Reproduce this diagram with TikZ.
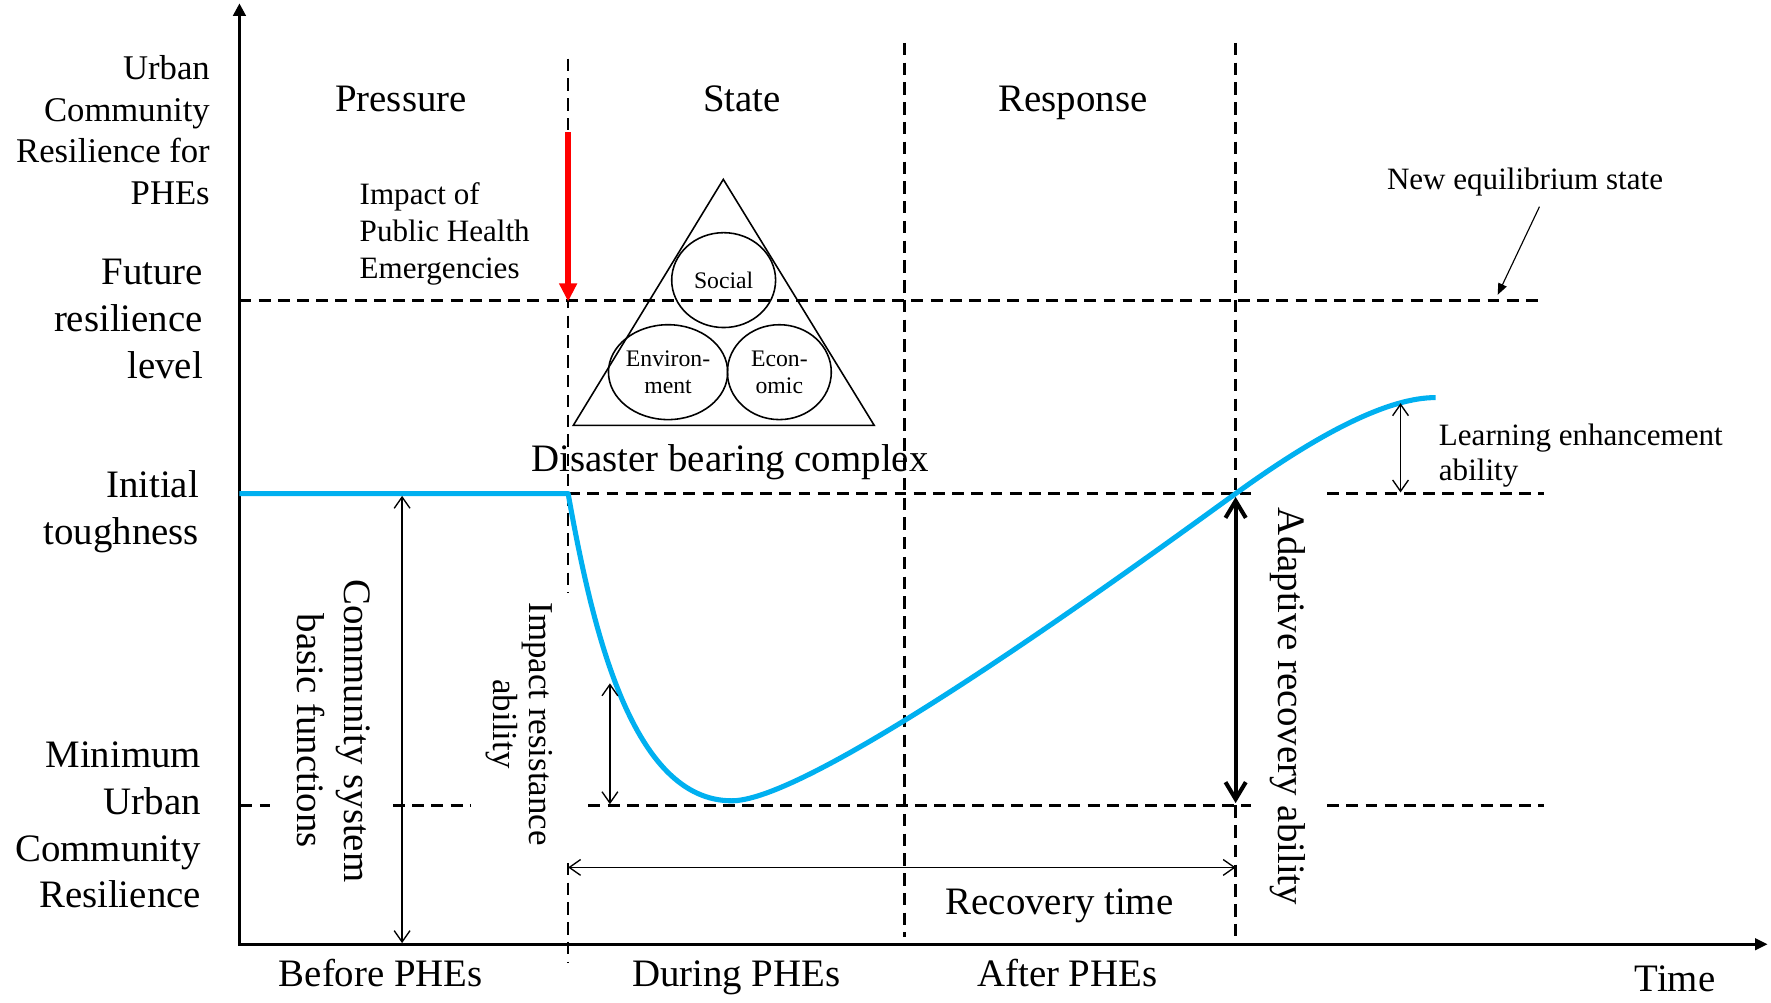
\documentclass[tikz,border=0pt]{standalone}
\usepackage{fontspec}
\setmainfont{Liberation Serif}
\usetikzlibrary{arrows.meta,shapes.geometric}
\definecolor{curveblue}{RGB}{0,176,240}
\definecolor{impactred}{RGB}{255,0,0}
\newcommand{\myfs}[2]{\fontsize{#1}{#2}\selectfont}
\begin{document}
\begin{tikzpicture}[x=1pt,y=-1pt,
  txt/.style={inner sep=0pt, outer sep=0pt},
  big/.style={txt, font=\myfs{34.4}{41.3}},
  guide/.style={line width=2.4pt, dash pattern=on 10.5pt off 6.5pt},
  vguide/.style={line width=2.2pt, dash pattern=on 11pt off 6.5pt},
  barb/.style={line width=1.2pt, {Straight Barb[length=10pt,width=14pt]}-{Straight Barb[length=10pt,width=14pt]}},
  boldbarb/.style={line width=3.6pt, {Straight Barb[length=15pt,width=18pt]}-{Straight Barb[length=15pt,width=18pt]}},
  curve/.style={line width=4.5pt, curveblue, line join=round},
  part/.style={ellipse, draw, line width=1.4pt, minimum width=92pt, minimum height=84pt, inner sep=0pt, align=center, font=\myfs{21}{23.7}},
]
\useasboundingbox (0,0) rectangle (1568,888);
\fill[white] (0,0) rectangle (1568,888);

% ---------- coordinates ----------
\coordinate (O) at (212,836);
\coordinate (Ytop) at (212,3);
\coordinate (Xend) at (1565,836);
% horizontal guides
\coordinate (F0) at (212,266);  \coordinate (F1) at (1367,266);
\coordinate (I0) at (503,437);  \coordinate (I1) at (1108,437);
\coordinate (I2) at (1175,437); \coordinate (I3) at (1367,437);
\coordinate (M0) at (213,713);  \coordinate (M1) at (239,713);
\coordinate (M2) at (348,713);  \coordinate (M3) at (417,713);
\coordinate (M4) at (521,713);  \coordinate (M5) at (1108,713);
\coordinate (M6) at (1175,713); \coordinate (M7) at (1367,713);
% vertical guides
\coordinate (V1a) at (503,52);  \coordinate (V1b) at (503,525);
\coordinate (V1c) at (503,764); \coordinate (V1d) at (503,852);
\coordinate (V2a) at (801,38);  \coordinate (V2b) at (801,830);
\coordinate (V3a) at (1094,38); \coordinate (V3b) at (1094,437);
\coordinate (V3c) at (1094,713); \coordinate (V3d) at (1094,830);

% ---------- guides ----------
\draw[guide] (F0) -- (F1);
\draw[guide] (I0) -- (I1);
\draw[guide] (I2) -- (I3);
\draw[guide] (M0) -- (M1);
\draw[guide] (M2) -- (M3);
\draw[guide] (M4) -- (M5);
\draw[guide] (M6) -- (M7);
\draw[vguide] (V1a) -- (V1b);
\draw[vguide] (V1c) -- (V1d);
\draw[vguide] (V2a) -- (V2b);
\draw[vguide] (V3a) -- (V3b);
\draw[vguide] (V3c) -- (V3d);

% ---------- axes ----------
\draw[line width=2.5pt, {Triangle[length=11pt,width=11pt]}-{Triangle[length=11pt,width=10pt]}] (Ytop) -- (O) -- (Xend);

% ---------- resilience curve ----------
\coordinate (C0) at (212,437);
\coordinate (C1) at (503,437);
\coordinate (Cmin) at (648,709);
\coordinate (Cx) at (1094,437);
\coordinate (Cend) at (1271,352);
\draw[curve] (C0) -- (C1) .. controls (525,560) and (560,709) .. (Cmin)
  .. controls (720,709) and (1000,505) .. (Cx)
  .. controls (1170,382) and (1230,352) .. (Cend);

% ---------- measure arrows ----------
\coordinate (CSa) at (356,439);  \coordinate (CSb) at (356,835);
\coordinate (IRa) at (540,605);  \coordinate (IRb) at (540,712);
\coordinate (RTa) at (503,768);  \coordinate (RTb) at (1094,768);
\coordinate (ARa) at (1094,440); \coordinate (ARb) at (1094,711);
\coordinate (LEa) at (1240,357); \coordinate (LEb) at (1240,436);
\draw[barb] (CSa) -- (CSb);
\draw[barb] (IRa) -- (IRb);
\draw[barb] (RTa) -- (RTb);
\draw[barb] (LEa) -- (LEb);
\draw[boldbarb] (ARa) -- (ARb);

% impact arrow
\coordinate (RA) at (503,117); \coordinate (RB) at (503,267);
\draw[impactred, line width=4.7pt, -{Triangle[length=16pt,width=15pt]}] (RA) -- (RB);

% new equilibrium pointer
\coordinate (NA) at (1363,183); \coordinate (NB) at (1326,261);
\draw[line width=1pt, -{Triangle[length=10pt,width=8pt]}] (NA) -- (NB);

% ---------- disaster bearing complex ----------
\coordinate (Tapex) at (640.4,158.8);
\coordinate (Tl) at (507.6,376.6);
\coordinate (Tr) at (774,376.6);
\draw[line width=1.4pt] (Tapex) -- (Tl) -- (Tr) -- cycle;
\node[part] (social) at (640.7,248) {Social};
\node[part] (environ) at (591.5,329.5) {Environ-\\ment};
\node[part] (econ) at (690,329.5) {Econ-\\omic};

% ---------- texts ----------
\node[txt, font=\myfs{30.7}{36.9}, align=right, anchor=north east] (ylab) at (185.7,49) {Urban\\Community\\Resilience for\\PHEs};
\node[big, align=right, anchor=north east] (future) at (179.6,229.8) {Future\\resilience\\level};
\node[big, align=right, anchor=north east] (initial) at (176.2,416.5) {Initial\\toughness};
\node[big, align=right, anchor=north east] (minimum) at (177.9,657) {Minimum\\Urban\\Community\\Resilience};

\node[big, anchor=base] (pressure) at (355,99) {Pressure};
\node[big, anchor=base] (state) at (657,99) {State};
\node[big, anchor=base] (response) at (950,99) {Response};
\node[txt, font=\myfs{27.5}{32.6}, align=left, anchor=north west] (impact) at (318.5,161.8) {Impact of\\Public Health\\Emergencies};
\node[big, anchor=base] (dbc) at (646.3,417.6) {Disaster bearing complex};
\node[txt, font=\myfs{27.5}{31}, anchor=base west] (neweq) at (1228,168.2) {New equilibrium state};
\node[txt, font=\myfs{27.5}{31}, align=left, anchor=north west] (learn) at (1274,375.2) {Learning enhancement\\ability};

\node[txt, font=\myfs{34.4}{42.2}, align=center, rotate=-90] (css) at (295.3,647) {Community system\\basic functions};
\node[txt, font=\myfs{30.9}{32.4}, align=center, rotate=-90] (ira) at (459.7,641) {Impact resistance\\ability};
\node[big, rotate=-90] (ara) at (1140,625.5) {Adaptive recovery ability};

\node[big, anchor=base] (rt) at (938,810) {Recovery time};
\node[big, anchor=base] (before) at (337.2,873.5) {Before PHEs};
\node[big, anchor=base] (during) at (651.8,873.5) {During PHEs};
\node[big, anchor=base] (after) at (945,873.5) {After PHEs};
\node[big, anchor=base] (time) at (1483,878) {Time};
\end{tikzpicture}
\end{document}
